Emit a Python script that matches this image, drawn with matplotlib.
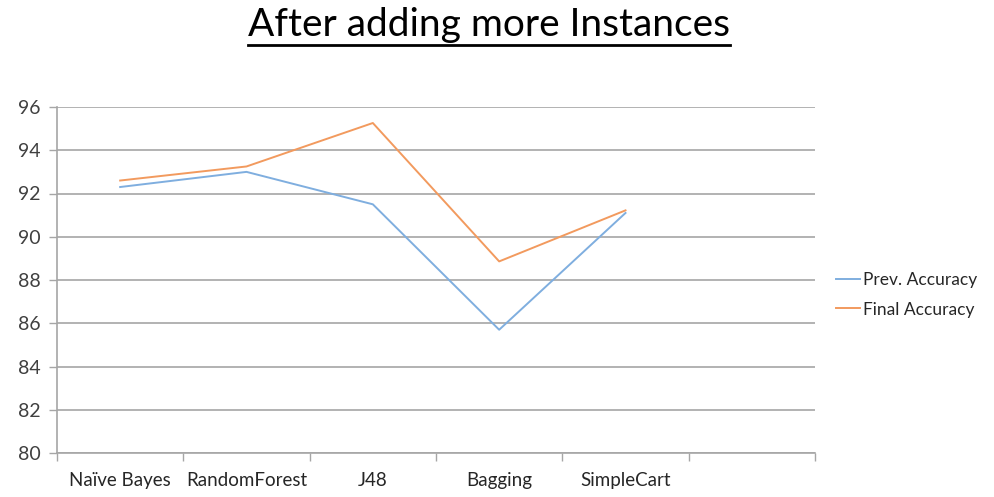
import matplotlib
matplotlib.use("Agg")
import matplotlib.pyplot as plt
from matplotlib.lines import Line2D
import numpy as np

categories = ["Naïve Bayes", "RandomForest", "J48", "Bagging", "SimpleCart", ""]
prev_acc = [92.3, 93.0, 91.5, 85.7, 91.1]
final_acc = [92.6, 93.25, 95.26, 88.86, 91.22]
y_ticks = [80, 82, 84, 86, 88, 90, 92, 94, 96]

plt.rcParams['font.family'] = ['Lato', 'DejaVu Sans']

fig = plt.figure(figsize=(9.95, 4.97), dpi=100)
ax = fig.add_axes([57/995, 1-453/497, (815-57)/995, (453-107)/497])

x = np.arange(len(prev_acc))
ax.plot(x, prev_acc, color="#7FAEDF", lw=1.4, label="Prev. Accuracy")
ax.plot(x, final_acc, color="#F29A5E", lw=1.4, label="Final Accuracy")

ax.set_xlim(-0.5, len(categories) - 0.5)
ax.set_ylim(80, 96)
ax.set_yticks(y_ticks)
ax.set_yticklabels([str(v) for v in y_ticks], fontsize=14, color="#404040")
ax.set_xticks(np.arange(len(categories)))
ax.set_xticklabels(categories, fontsize=13.5, color="#262626")
ax.set_xticks(np.arange(len(categories) + 1) - 0.5, minor=True)
ax.tick_params(axis='x', which='major', length=0, pad=14)
ax.tick_params(axis='x', which='minor', length=6, color="#A6A6A6", width=1)
ax.tick_params(axis='y', length=6, color="#A6A6A6", width=1, pad=6)

ax.grid(axis='y', color="#A6A6A6", lw=1.2)
ax.set_axisbelow(True)
for s in ['top', 'right']:
    ax.spines[s].set_visible(False)
for s in ['left', 'bottom']:
    ax.spines[s].set_color("#A6A6A6")
    ax.spines[s].set_linewidth(1.2)

t = fig.text(489/995, 1-25/497, "After adding more Instances", fontsize=28,
             ha='center', va='center', color="black")
fig.canvas.draw()
bb = t.get_window_extent(renderer=fig.canvas.get_renderer())
fig.add_artist(Line2D([bb.x0/995, bb.x1/995], [1-45/497, 1-45/497],
                      color='black', lw=2, transform=fig.transFigure))

fig.legend(loc='center left', bbox_to_anchor=(820/995, 1-295/497), frameon=False,
           fontsize=12.5, handlelength=1.4, handletextpad=0.2, labelspacing=0.75,
           labelcolor="#262626")

fig.savefig("out.png", dpi=100)
